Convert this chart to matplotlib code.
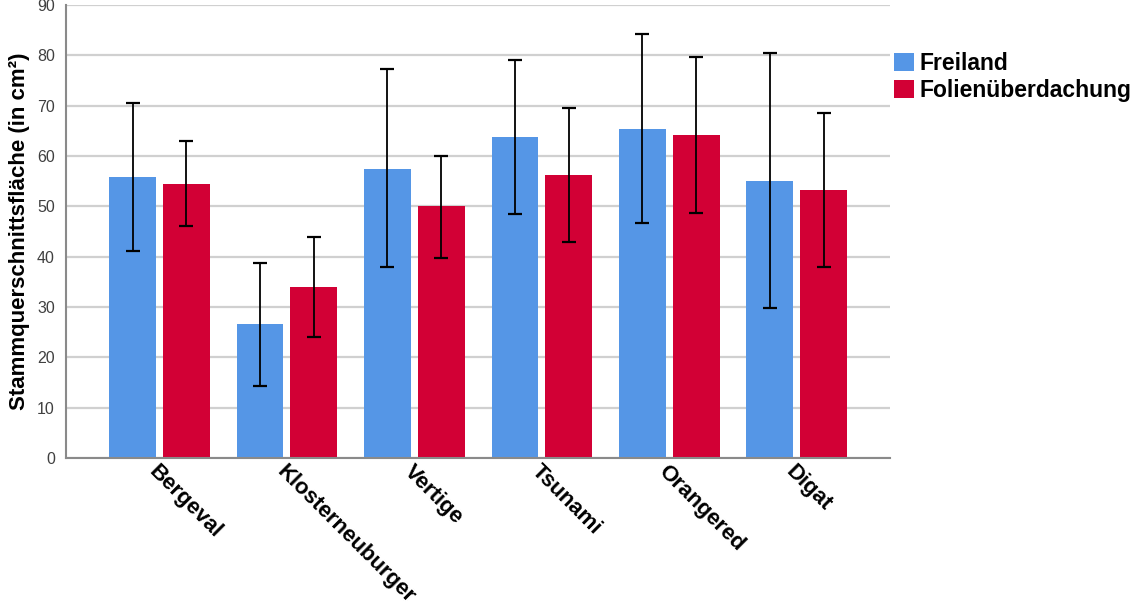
import numpy as np
import matplotlib
matplotlib.use("Agg")
import matplotlib.pyplot as plt

plt.rcParams["font.family"] = ["Liberation Sans", "DejaVu Sans"]

# Sorten and group means with error bar limits
sorten = ["Bergeval", "Klosterneuburger", "Vertige", "Tsunami", "Orangered", "Digat"]

freiland_mean = [55.8, 26.6, 57.5, 63.7, 65.4, 55.1]
freiland_upper = [70.5, 38.8, 77.2, 79.0, 84.2, 80.4]
freiland_lower = [41.1, 14.3, 38.0, 48.5, 46.7, 29.9]

folie_mean = [54.5, 34.0, 50.0, 56.2, 64.1, 53.2]
folie_upper = [63.0, 44.0, 60.1, 69.6, 79.6, 68.6]
folie_lower = [46.0, 24.0, 39.8, 43.0, 48.7, 37.9]

yticks = [0, 10, 20, 30, 40, 50, 60, 70, 80, 90]

blue = "#5596e6"
red = "#d20035"

fig = plt.figure(figsize=(11.34, 6.06), dpi=100)
ax = fig.add_axes([0.0582, 0.2442, 0.7268, 0.7475])

x = np.arange(len(sorten))
w = 0.367
off = 0.211

fm = np.array(freiland_mean)
fo = np.array(folie_mean)
f_err = [fm - np.array(freiland_lower), np.array(freiland_upper) - fm]
o_err = [fo - np.array(folie_lower), np.array(folie_upper) - fo]

ax.bar(x - off, fm, width=w, color=blue, label="Freiland", zorder=2)
ax.bar(x + off, fo, width=w, color=red, label="Folienüberdachung", zorder=2)

ax.errorbar(x - off, fm, yerr=f_err, fmt="none", ecolor="black",
            elinewidth=1.3, capsize=5, capthick=1.6, zorder=3)
ax.errorbar(x + off, fo, yerr=o_err, fmt="none", ecolor="black",
            elinewidth=1.3, capsize=5, capthick=1.6, zorder=3)

ax.set_xlim(-0.734, 5.734)
ax.set_ylim(0, 90)
ax.set_yticks(yticks)
ax.yaxis.grid(True, color="#d0d0d0", linewidth=1.6, zorder=0)
ax.set_axisbelow(True)

for side in ["top", "right"]:
    ax.spines[side].set_visible(False)
for side in ["left", "bottom"]:
    ax.spines[side].set_color("#8a8a8a")
    ax.spines[side].set_linewidth(1.5)

ax.tick_params(axis="y", length=0, labelsize=11.5, labelcolor="#404040", pad=8)
ax.tick_params(axis="x", length=0, pad=2)
ax.set_xticks(x)
ax.set_xticklabels(sorten, rotation=-45, ha="left", va="top",
                   rotation_mode="anchor", fontsize=16, fontweight="bold")

ax.set_ylabel("Stammquerschnittsfläche (in cm²)", fontsize=16,
              fontweight="bold", labelpad=5)

ax.legend(loc="upper left", bbox_to_anchor=(1.005, 0.897), frameon=False,
          prop={"size": 16.5, "weight": "bold"}, handlelength=0.85,
          handleheight=0.85, handletextpad=0.25, borderaxespad=0.0,
          borderpad=0.0, labelspacing=0.2)

fig.savefig("out.png", dpi=100)
